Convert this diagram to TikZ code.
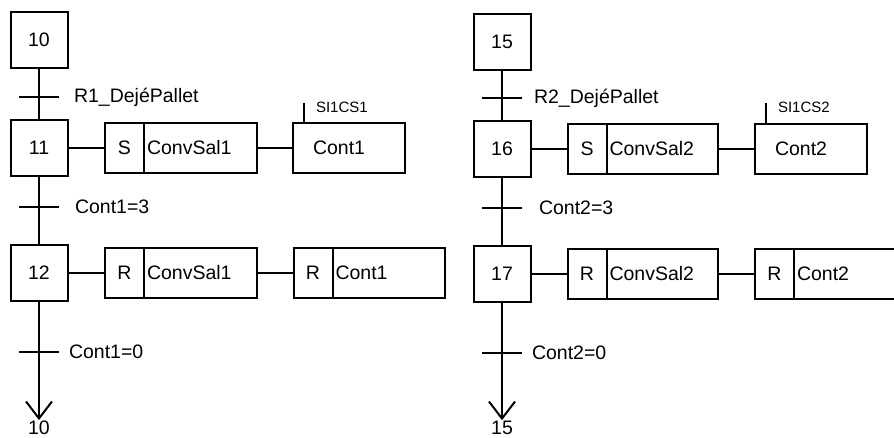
\documentclass[tikz,border=0pt]{standalone}
\usepackage{fontspec}
\setmainfont{Liberation Sans}
\usetikzlibrary{positioning,arrows.meta}

\begin{document}
\begin{tikzpicture}[x=1pt, y=-1pt, line width=2pt,
    font=\fontsize{19.5}{22}\selectfont,
    etape/.style={draw, minimum width=57pt, minimum height=56pt, inner sep=0pt},
    qual/.style={draw, minimum width=39pt, minimum height=50pt, inner sep=0pt, outer sep=0pt},
    action/.style={draw, minimum height=50pt, text width=#1, inner xsep=3pt, inner ysep=0pt, outer sep=0pt, align=left},
    compteur/.style={draw, minimum height=50pt, text width=72pt, inner xsep=20pt, inner ysep=0pt, align=left},
    trans/.style={fill, minimum width=40pt, minimum height=2.5pt, inner sep=0pt},
    cond/.style={inner sep=0pt},
    capteur/.style={anchor=west, inner sep=0pt, font=\fontsize{15}{17}\selectfont},
    fleche/.style={-{Straight Barb[length=17pt,width=26pt]}}]
    \useasboundingbox (0,0) rectangle (894,438);

    % Grafcet 1
    \node[etape] (s10) at (39,40) {10};
    \node[trans] (t10) at (39,97) {};
    \node[cond, right=13pt of t10] (c10) {R1\_DejéPallet};
    \node[etape] (s11) at (39,148) {11};
    \node[qual] (q11) at (124.5,148) {S};
    \node[action=107pt, right=0pt of q11] (a11) {ConvSal1};
    \node[compteur] (k11) at (349,148) {Cont1};
    \coordinate (p11) at (304,103);
    \node[capteur] (n11) at (315,107) {SI1CS1};
    \node[trans] (t11) at (39,207) {};
    \node[cond, right=14pt of t11] (c11) {Cont1=3};
    \node[etape] (s12) at (39,273) {12};
    \node[qual] (q12) at (124.5,273) {R};
    \node[action=107pt, right=0pt of q12] (a12) {ConvSal1};
    \node[qual] (qk12) at (313,273) {R};
    \node[action=106pt, right=0pt of qk12] (ak12) {Cont1};
    \node[trans] (t12) at (39,352) {};
    \node[cond, right=8pt of t12] (c12) {Cont1=0};
    \node[inner sep=0pt] (r10) at (39,428) {10};

    \draw (s10) -- (s11); \draw (s11) -- (s12);
    \draw[fleche] (s12) -- (r10.north);
    \draw (s11) -- (q11); \draw (a11) -- (k11);
    \draw (p11) -- (p11 |- k11.north);
    \draw (s12) -- (q12); \draw (a12) -- (qk12);

    % Grafcet 2
    \node[etape] (s15) at (502,42) {15};
    \node[trans] (t15) at (502,98) {};
    \node[cond, right=10pt of t15] (c15) {R2\_DejéPallet};
    \node[etape] (s16) at (502,149) {16};
    \node[qual] (q16) at (587,149) {S};
    \node[action=105pt, right=0pt of q16] (a16) {ConvSal2};
    \node[compteur] (k16) at (811,149) {Cont2};
    \coordinate (p16) at (766,103);
    \node[capteur] (n16) at (777,107) {SI1CS2};
    \node[trans] (t16) at (502,208) {};
    \node[cond, right=15pt of t16] (c16) {Cont2=3};
    \node[etape] (s17) at (502,274) {17};
    \node[qual] (q17) at (587,274) {R};
    \node[action=105pt, right=0pt of q17] (a17) {ConvSal2};
    \node[qual] (qk17) at (774.5,274) {R};
    \node[action=106pt, right=0pt of qk17] (ak17) {Cont2};
    \node[trans] (t17) at (502,353) {};
    \node[cond, right=8pt of t17] (c17) {Cont2=0};
    \node[inner sep=0pt] (r15) at (502,428) {15};

    \draw (s15) -- (s16); \draw (s16) -- (s17);
    \draw[fleche] (s17) -- (r15.north);
    \draw (s16) -- (q16); \draw (a16) -- (k16);
    \draw (p16) -- (p16 |- k16.north);
    \draw (s17) -- (q17); \draw (a17) -- (qk17);
\end{tikzpicture}
\end{document}
